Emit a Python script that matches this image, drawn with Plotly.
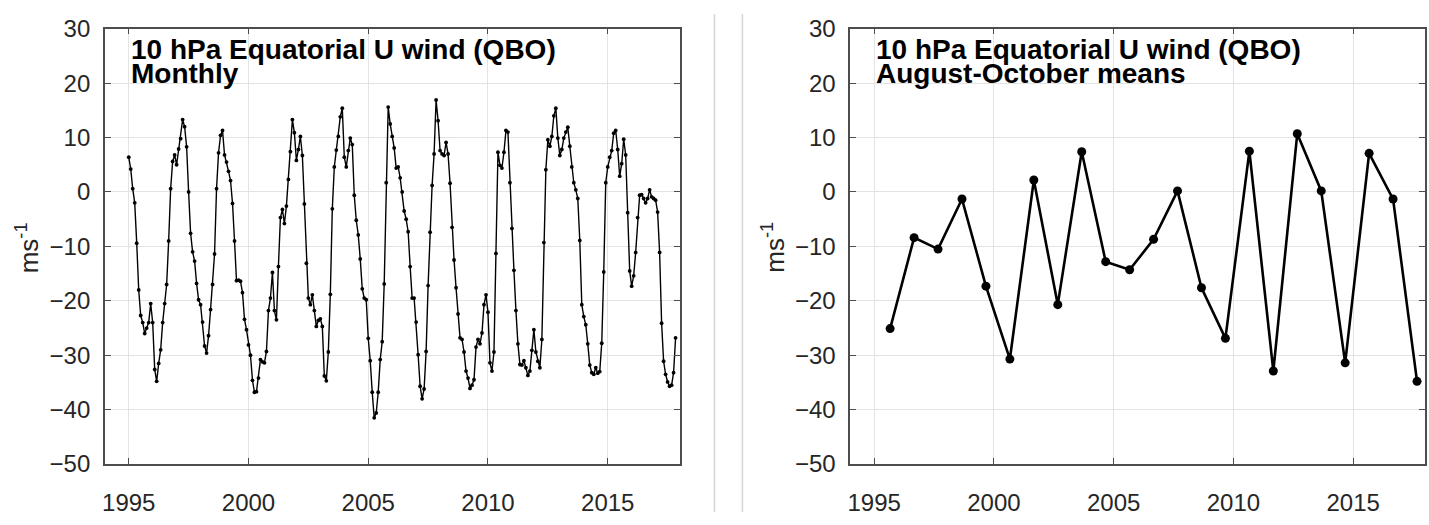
import plotly.graph_objects as go

# ---------------- data ----------------
monthly_start_year = 1995
# 10 hPa equatorial U wind, monthly values (m s-1), Jan 1995 .. Nov 2017
monthly_u = [
    6.4, 4.2, 0.6, -2.0, -9.4, -18.0, -22.7, -24.0, -26.0, -25.0, -24.0, -20.5,        # 1995
    -24.0, -32.6, -34.8, -31.5, -29.0, -24.0, -20.5, -17.0, -9.0, 0.6, 5.6, 6.8,        # 1996
    5.0, 7.9, 9.8, 13.3, 12.0, 8.3, 0.0, -7.6, -11.0, -12.7, -16.8, -19.8,              # 1997
    -20.7, -23.9, -28.3, -29.6, -26.4, -21.6, -17.0, -11.4, 0.6, 7.2, 10.4, 11.3,       # 1998
    6.8, 5.5, 3.8, 2.1, -2.1, -9.0, -16.3, -16.2, -16.4, -18.5, -23.4, -25.3,           # 1999
    -28.1, -30.0, -34.6, -36.8, -36.7, -34.2, -30.8, -31.2, -31.4, -29.3, -21.8, -19.5, # 2000
    -14.8, -21.8, -23.5, -13.7, -4.7, -3.2, -5.8, -2.6, 2.3, 7.4, 13.3, 10.9,           # 2001
    5.8, 7.8, 10.2, 6.7, -2.2, -13.1, -19.5, -20.7, -18.9, -21.8, -24.7, -23.6,         # 2002
    -23.3, -24.7, -33.8, -34.7, -29.4, -18.8, -3.1, 4.6, 7.7, 10.2, 13.8, 15.4,         # 2003
    6.4, 4.6, 7.6, 9.9, 8.7, -0.6, -5.2, -7.9, -12.3, -17.8, -19.5, -19.8,              # 2004
    -26.9, -31.0, -36.8, -41.5, -40.6, -36.8, -30.8, -27.5, -16.9, 1.7, 15.6, 12.5,     # 2005
    10.2, 8.1, 4.4, 4.6, 2.6, 0.0, -3.5, -5.0, -7.3, -13.7, -19.5, -19.5,               # 2006
    -23.9, -29.9, -35.7, -38.0, -36.2, -29.3, -17.2, -7.4, 1.2, 7.0, 16.9, 13.1,        # 2007
    7.6, 7.0, 6.7, 9.1, 7.0, 1.6, -6.5, -12.5, -17.6, -22.4, -26.8, -27.1,              # 2008
    -29.4, -32.9, -34.2, -36.1, -35.5, -34.5, -28.5, -27.1, -27.9, -25.9, -20.7, -18.9, # 2009
    -22.1, -31.4, -32.9, -29.4, -11.3, 7.3, 4.9, 4.4, 7.3, 11.3, 11.0, 1.7,             # 2010
    -6.7, -14.4, -21.8, -27.9, -31.7, -31.8, -31.0, -32.3, -33.7, -32.9, -29.1, -25.3,  # 2011
    -29.4, -31.1, -32.3, -27.1, -9.3, 4.1, 9.6, 8.4, 10.2, 14.0, 15.4, 9.9,             # 2012
    6.7, 7.8, 9.9, 11.0, 11.9, 8.4, 4.6, 1.7, 0.4, -1.2, -8.9, -20.7,                   # 2013
    -22.9, -24.4, -27.9, -31.8, -33.2, -33.5, -32.3, -33.3, -33.0, -27.8, -14.7, 1.7,   # 2014
    4.6, 6.4, 7.6, 10.8, 11.3, 7.8, 2.9, 5.2, 9.7, 6.8, -3.8, -14.5,                    # 2015
    -17.3, -15.4, -11.1, -4.7, -0.6, -0.5, -1.2, -2.0, -1.2, 0.4, -0.9, -1.2,           # 2016
    -1.5, -3.7, -11.1, -24.1, -31.1, -33.5, -34.9, -35.7, -35.5, -33.2, -26.8,          # 2017
]

# August-October means
aso_years = list(range(1995, 2018))
aso_u = [-25.1, -8.4, -10.5, -1.3, -17.3, -30.7, 2.2, -20.7, 7.4, -12.8, -14.3, -8.7,
         0.2, -17.6, -26.9, 7.5, -32.9, 10.7, 0.2, -31.4, 7.1, -1.3, -34.8]

x_ticks = [1995, 2000, 2005, 2010, 2015]
y_ticks = [-50, -40, -30, -20, -10, 0, 10, 20, 30]
title_line1 = "10 hPa Equatorial U wind (QBO)"
left_line2 = "Monthly"
right_line2 = "August-October means"
y_title = "ms<sup>-1</sup>"

# ---------------- figure ----------------
W, H = 1429, 525
monthly_x = [monthly_start_year + i / 12.0 for i in range(len(monthly_u))]
aso_x = [y + 8 / 12.0 for y in aso_years]

fig = go.Figure()
fig.add_trace(go.Scatter(x=monthly_x, y=monthly_u, mode="lines+markers",
                         line=dict(color="black", width=1.4),
                         marker=dict(color="black", size=3.8),
                         xaxis="x", yaxis="y", showlegend=False))
fig.add_trace(go.Scatter(x=aso_x, y=aso_u, mode="lines+markers",
                         line=dict(color="black", width=2.6),
                         marker=dict(color="black", size=9),
                         xaxis="x2", yaxis="y2", showlegend=False))

left_px = (102, 678)
right_px = (849, 1425)
top_px, bot_px = 15.5, 474.5
ydom = [1 - bot_px / H, 1 - top_px / H]

tickfont = dict(family="Liberation Sans, Arial, sans-serif", size=24, color="#262626")
axis_common = dict(showline=True, linecolor="#4d4d4d", linewidth=1.5, mirror="ticks",
                   ticks="inside", ticklen=6, tickwidth=1, tickcolor="#4d4d4d",
                   showgrid=True, gridcolor="#e3e3e3", gridwidth=1,
                   zeroline=False, tickfont=tickfont)

xax = dict(axis_common, range=[1994, 2018], tickvals=x_ticks, ticklabelstandoff=16)
yax = dict(axis_common, range=[-50, 30], tickvals=y_ticks, ticklabelstandoff=8)

fig.update_layout(
    width=W, height=H,
    margin=dict(l=0, r=0, t=0, b=0),
    paper_bgcolor="white", plot_bgcolor="white",
    xaxis=dict(xax, domain=[left_px[0] / W, left_px[1] / W], anchor="y"),
    yaxis=dict(yax, domain=ydom, anchor="x"),
    xaxis2=dict(xax, domain=[right_px[0] / W, right_px[1] / W], anchor="y2"),
    yaxis2=dict(yax, domain=ydom, anchor="x2"),
)

title_font = dict(family="Liberation Sans, Arial, sans-serif", size=28, color="black", weight="bold")
ann = []
for x0, l2 in ((126, left_line2), (873, right_line2)):
    ann.append(dict(xref="paper", yref="paper", x=x0 / W, y=1 - 37 / H, xanchor="left",
                    yanchor="middle", text=title_line1, showarrow=False, font=title_font))
    ann.append(dict(xref="paper", yref="paper", x=x0 / W, y=1 - 63 / H, xanchor="left",
                    yanchor="middle", text=l2, showarrow=False, font=title_font))
for xc in (24, 772):
    ann.append(dict(xref="paper", yref="paper", x=xc / W, y=1 - 246 / H, xanchor="center",
                    yanchor="middle", text=y_title, textangle=-90, showarrow=False,
                    font=dict(family="Liberation Sans, Arial, sans-serif", size=26, color="#262626")))
fig.update_layout(annotations=ann)

# panel separators
for xs in (713, 741):
    fig.add_shape(type="line", xref="paper", yref="paper", x0=xs / W, x1=xs / W, y0=0, y1=1,
                  line=dict(color="#d4d4d4", width=1.5))

fig.write_html("out.html")
